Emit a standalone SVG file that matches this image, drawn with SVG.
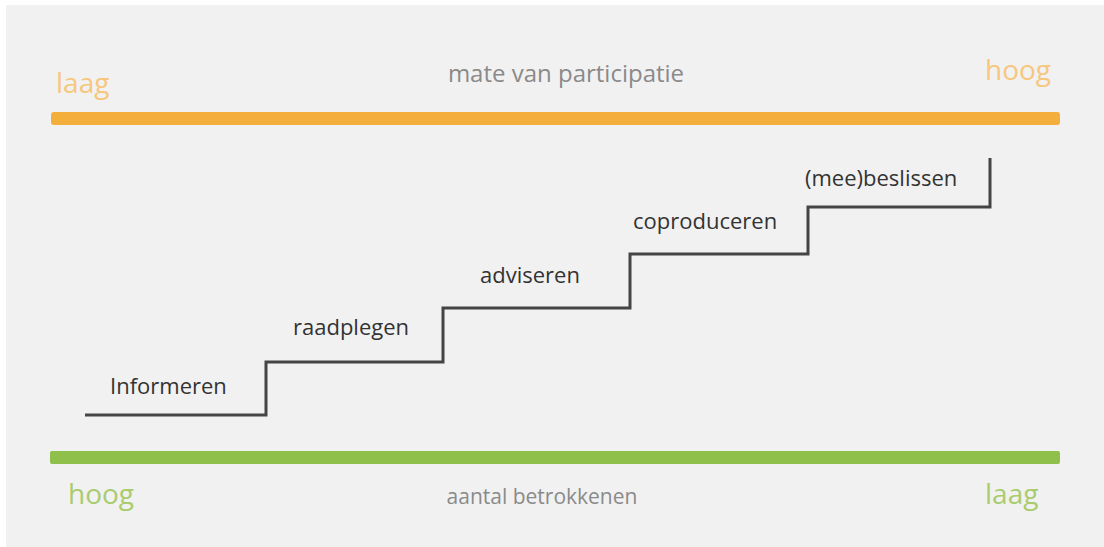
<svg xmlns="http://www.w3.org/2000/svg" width="1104" height="547" viewBox="0 0 1104 547">
<style>
.lbl{font-family:"Open Sans","Noto Sans",sans-serif;}
.step{font-size:22px;fill:#333333;}
.axis{fill:#8a8a8a;}
.end{font-size:28px;}
.or{fill:#f6c77c;}
.gr{fill:#a9cc6e;}
</style>
<rect x="0" y="0" width="1104" height="547" fill="#ffffff"/>
<rect x="6" y="5" width="1098" height="542" fill="#f1f1f1"/>
<g id="top-axis">
<rect x="51" y="112" width="1009" height="13" rx="3" fill="#f4ae3c"/>
<text class="lbl end or" x="56" y="93">laag</text>
<text class="lbl end or" x="985" y="80">hoog</text>
<text class="lbl axis" x="566" y="82" font-size="24" text-anchor="middle">mate van participatie</text>
</g>
<g id="bottom-axis">
<rect x="50" y="451" width="1010" height="13" rx="2" fill="#8fc04c"/>
<text class="lbl end gr" x="68" y="504">hoog</text>
<text class="lbl end gr" x="985" y="504">laag</text>
<text class="lbl axis" x="542" y="504" font-size="21" text-anchor="middle">aantal betrokkenen</text>
</g>
<g id="connectors">
<path d="M85 415 H266 V362 H443 V308 H630 V254 H808 V207 H990 V158" fill="none" stroke="#444444" stroke-width="3"/>
</g>
<g id="informeren"><text class="lbl step" x="110" y="394">Informeren</text></g>
<g id="raadplegen"><text class="lbl step" x="293" y="335">raadplegen</text></g>
<g id="adviseren"><text class="lbl step" x="480" y="283">adviseren</text></g>
<g id="coproduceren"><text class="lbl step" x="633" y="229">coproduceren</text></g>
<g id="meebeslissen"><text class="lbl step" x="805" y="186">(mee)beslissen</text></g>
</svg>
